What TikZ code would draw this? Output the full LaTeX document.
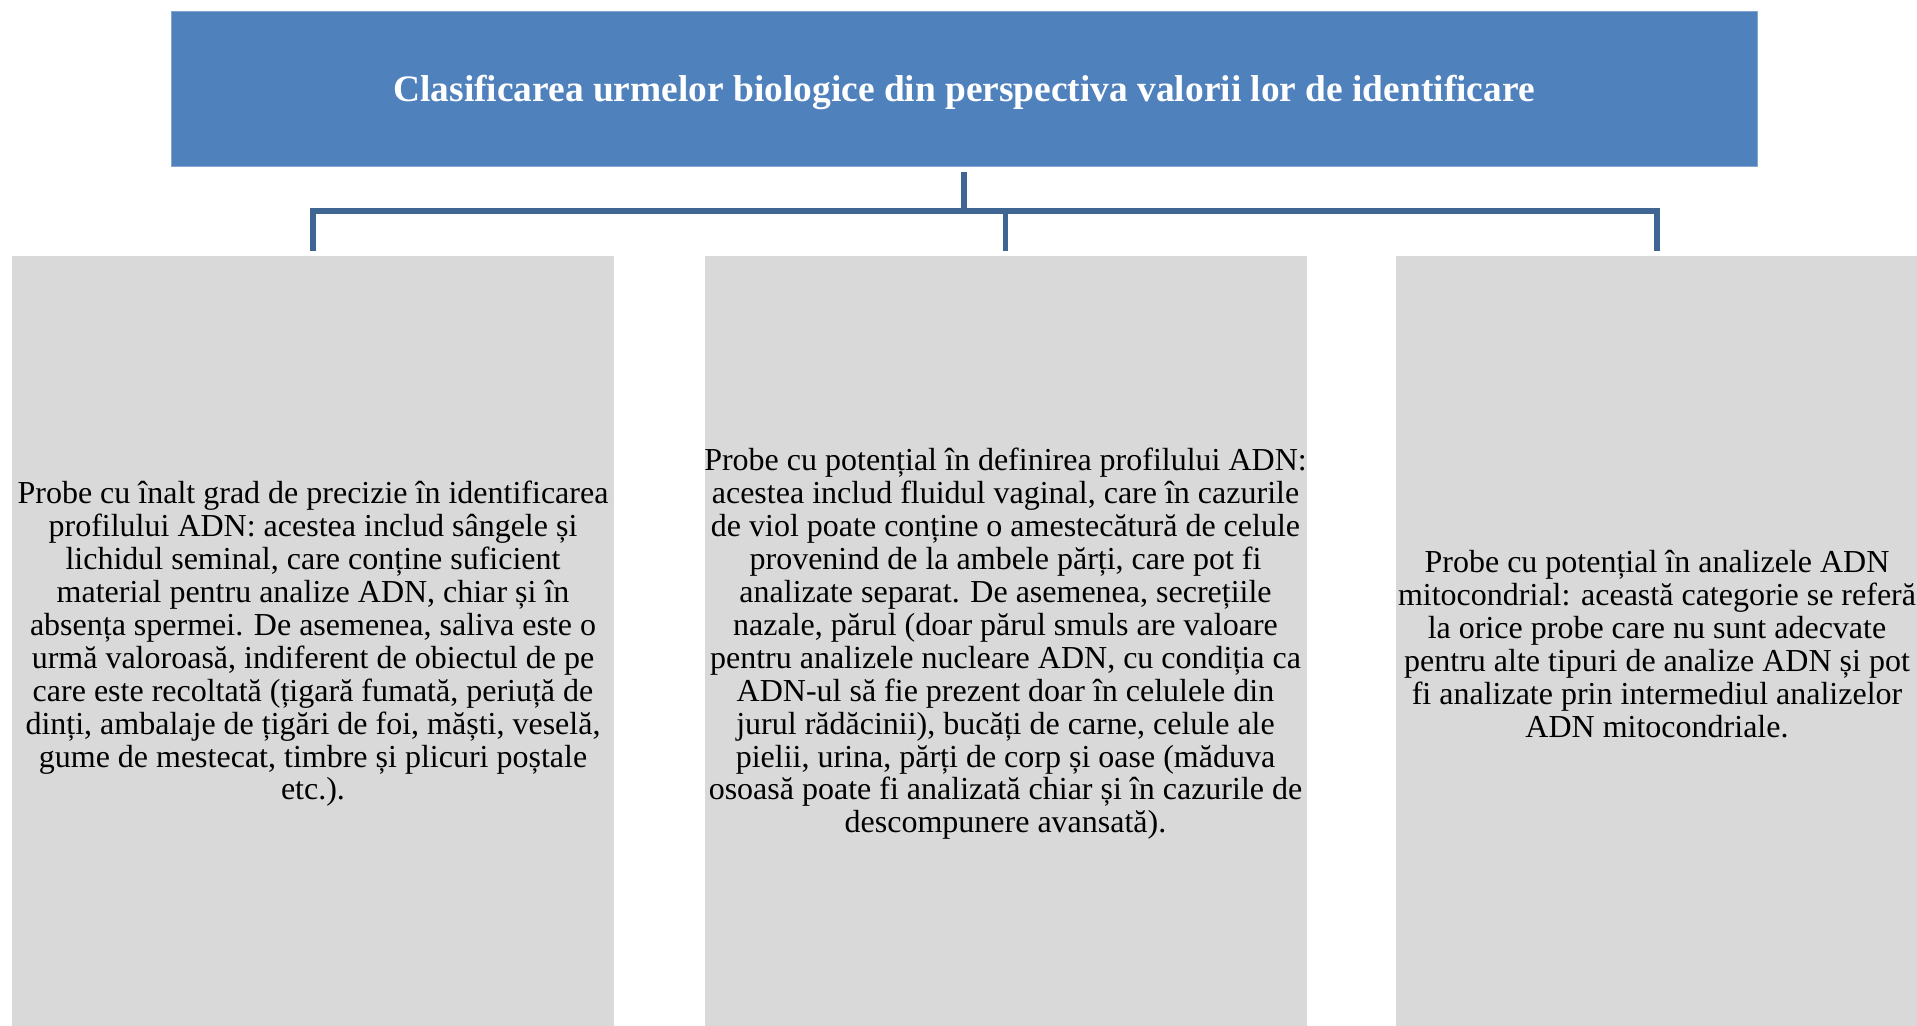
\documentclass[tikz,border=0pt]{standalone}
\usepackage{fontspec}
\setmainfont{Liberation Serif}
\definecolor{titleblue}{HTML}{4F81BD}
\definecolor{connblue}{HTML}{3F6593}
\definecolor{boxgray}{HTML}{D9D9D9}
\tikzset{
  titlebox/.style={fill=titleblue, draw=titleblue!70!white, line width=0.4pt, minimum width=793pt, minimum height=77.5pt, inner sep=0pt, text depth=0pt, text=white, font=\fontsize{18.7}{21}\selectfont\bfseries},
  graybox/.style={fill=boxgray, draw=none, minimum width=301pt, minimum height=388pt, inner sep=0pt},
  bodytext/.style={align=center, inner sep=0pt, font=\fontsize{16}{16.45}\selectfont},
  conn/.style={draw=connblue, line width=2.75pt, line join=miter}
}
\begin{document}
\begin{tikzpicture}[x=0.5pt,y=0.5pt]
\useasboundingbox (0,0) rectangle (1917,-1025);
\clip (0,0) rectangle (1917,-1025);
\node[titlebox] (t) at (964,-88.5) {Clasificarea urmelor biologice din perspectiva valorii lor de identificare};
\node[graybox] (l) at (313,-644) {};
\node[graybox] (m) at (1005.5,-644) {};
\node[graybox] (r) at (1697,-644) {};
\node[bodytext] (lt) at (313,-644) {Probe cu înalt grad de precizie în identificarea\\profilului ADN: acestea includ sângele și\\lichidul seminal, care conține suficient\\material pentru analize ADN, chiar și în\\absența spermei. De asemenea, saliva este o\\urmă valoroasă, indiferent de obiectul de pe\\care este recoltată (țigară fumată, periuță de\\dinți, ambalaje de țigări de foi, măști, veselă,\\gume de mestecat, timbre și plicuri poștale\\etc.).};
\node[bodytext] (mt) at (1005.5,-644) {Probe cu potențial în definirea profilului ADN:\\acestea includ fluidul vaginal, care în cazurile\\de viol poate conține o amestecătură de celule\\provenind de la ambele părți, care pot fi\\analizate separat. De asemenea, secrețiile\\nazale, părul (doar părul smuls are valoare\\pentru analizele nucleare ADN, cu condiția ca\\ADN-ul să fie prezent doar în celulele din\\jurul rădăcinii), bucăți de carne, celule ale\\pielii, urina, părți de corp și oase (măduva\\osoasă poate fi analizată chiar și în cazurile de\\descompunere avansată).};
\node[bodytext] (rt) at (1657,-644) {Probe cu potențial în analizele ADN\\mitocondrial: această categorie se referă\\la orice probe care nu sunt adecvate\\pentru alte tipuri de analize ADN și pot\\fi analizate prin intermediul analizelor\\ADN mitocondriale.};
\coordinate (hub) at (964,-211);
\coordinate (rtop) at (1657,-251);
\draw[conn] ([yshift=-3pt]t.south) -- (hub);
\draw[conn] (hub) -| ([yshift=2.5pt]l.north);
\draw[conn] (hub) -| ([yshift=2.5pt]m.north);
\draw[conn] (hub) -| (rtop);
\end{tikzpicture}
\end{document}
